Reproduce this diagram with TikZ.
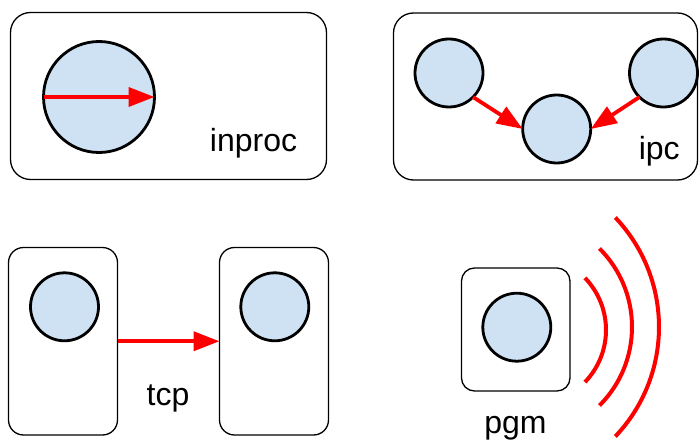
\documentclass[tikz,border=0pt]{standalone}
\usepackage{fontspec}
\setmainfont{Liberation Sans}
\usetikzlibrary{arrows.meta}
\definecolor{cfill}{HTML}{CFE2F3}
\definecolor{myred}{HTML}{FF0000}
\tikzset{
  box/.style={draw=black, line width=1.3pt, rounded corners=#1, inner sep=0pt, outer sep=0pt},
  ball/.style={circle, draw=black, fill=cfill, line width=2.8pt, inner sep=0pt, outer sep=0pt, minimum size=#1},
  flow/.style={draw=myred, line width=3.8pt, -{Triangle[length=26pt,width=19pt]}},
  wave/.style={draw=myred, line width=4pt},
  lbl/.style={anchor=base, inner sep=0pt, font=\fontsize{32}{38}\selectfont}
}
\begin{document}
\begin{tikzpicture}[x=1pt, y=-1pt]
\useasboundingbox (0,0) rectangle (699,441);
% inproc
\node[box=20pt, minimum width=316pt, minimum height=167pt] (b1) at (168.5,96) {};
\node[ball=111pt] (c1) at (99,97) {};
\draw[flow] (c1.west) -- (c1.east);
\node[lbl] (l1) at (253.5,151.5) {inproc};
% ipc
\node[box=20pt, minimum width=304pt, minimum height=167pt] (b2) at (545.5,96.5) {};
\node[ball=68pt] (c2a) at (449,73) {};
\node[ball=68pt] (c2b) at (556.7,129) {};
\node[ball=68pt] (c2c) at (663.5,73) {};
\draw[flow] (c2a.south east) -- (c2b.west);
\draw[flow] (c2c.south west) -- (c2b.east);
\node[lbl] (l2) at (659.3,159.3) {ipc};
% tcp
\node[box=15pt, minimum width=109pt, minimum height=187.5pt] (b3) at (63,341.25) {};
\node[box=15pt, minimum width=109pt, minimum height=187.5pt] (b4) at (274,341.25) {};
\node[ball=68pt] (c3) at (64.5,306.8) {};
\node[ball=68pt] (c4) at (274.8,306.8) {};
\draw[flow] (b3.east) -- (b4.west);
\node[lbl] (l3) at (168,405) {tcp};
% pgm
\node[box=13pt, minimum width=108.5pt, minimum height=123pt] (b5) at (515.75,329.5) {};
\node[ball=68pt] (c5) at (516.8,327.2) {};
\draw[wave] ([shift={(44:75)}]531,330) arc[start angle=44, end angle=-44, radius=75];
\draw[wave] ([shift={(45:111)}]521,327) arc[start angle=45, end angle=-45, radius=111];
\draw[wave] ([shift={(43.5:159)}]500,327) arc[start angle=43.5, end angle=-43.5, radius=159];
\node[lbl] (l5) at (515.5,433.3) {pgm};
\end{tikzpicture}
\end{document}
